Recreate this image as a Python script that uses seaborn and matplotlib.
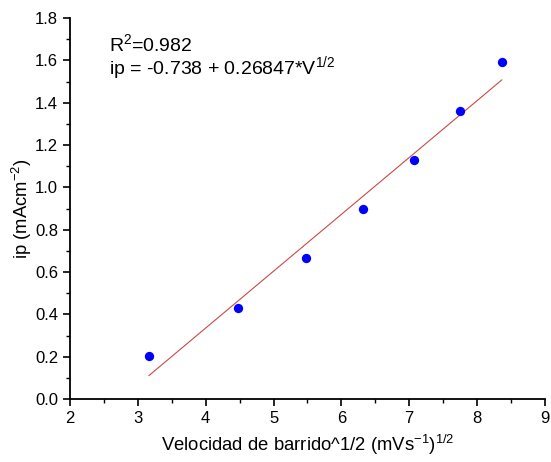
import numpy as np
import pandas as pd
import matplotlib
matplotlib.use("Agg")
import matplotlib.pyplot as plt
import seaborn as sns
from matplotlib.ticker import MultipleLocator

x_vals = [3.162, 4.472, 5.477, 6.325, 7.071, 7.746, 8.367]
ip_vals = [0.205, 0.430, 0.665, 0.900, 1.130, 1.360, 1.590]
intercept = -0.738
slope = 0.26847
x_ticks = [2, 3, 4, 5, 6, 7, 8, 9]
y_ticks = [0.0, 0.2, 0.4, 0.6, 0.8, 1.0, 1.2, 1.4, 1.6, 1.8]

sns.set_style("ticks")
plt.rcParams['font.family'] = ['Liberation Sans', 'DejaVu Sans']
plt.rcParams['mathtext.fontset'] = 'custom'
plt.rcParams['mathtext.rm'] = 'Liberation Sans'
plt.rcParams['mathtext.it'] = 'Liberation Sans:italic'
plt.rcParams['mathtext.default'] = 'regular'
plt.rcParams['text.color'] = 'black'
plt.rcParams['axes.labelcolor'] = 'black'

df = pd.DataFrame({"x": x_vals, "ip": ip_vals})
fit_x = np.array([min(x_vals), max(x_vals)])
fit_df = pd.DataFrame({"x": fit_x, "ip": intercept + slope * fit_x})

fig = plt.figure(figsize=(5.51, 4.62), dpi=100)
ax = fig.add_axes([0.127, 0.136, 0.862, 0.825])

sns.lineplot(data=fit_df, x="x", y="ip", ax=ax, color="#cc4848", linewidth=0.8)
sns.scatterplot(data=df, x="x", y="ip", ax=ax, color="#0000ff", s=45, edgecolor="#0000ff", linewidth=0, zorder=3)

ax.set_xlim(2, 9)
ax.set_ylim(0, 1.8)
ax.set_xticks(x_ticks)
ax.set_yticks(y_ticks)
ax.set_yticklabels([f"{v:.1f}" for v in y_ticks])
ax.xaxis.set_minor_locator(MultipleLocator(0.5))
ax.yaxis.set_minor_locator(MultipleLocator(0.1))
ax.tick_params(which="major", direction="out", length=5, width=1.2, labelsize=12, colors="black")
ax.tick_params(which="minor", direction="out", length=3, width=1.0, colors="black")
for s in ["left", "bottom"]:
    ax.spines[s].set_linewidth(1.3)
    ax.spines[s].set_color("black")
sns.despine(ax=ax)

ax.set_xlabel(r"Velocidad de barrido^1/2 (mVs$^{-1}$)$^{1/2}$", fontsize=13.3, labelpad=5)
ax.set_ylabel(r"ip (mAcm$^{-2}$)", fontsize=13.3, labelpad=1)

ax.text(2.57, 1.677, r"R$^{2}$=0.982", fontsize=14, va="center", ha="left")
ax.text(2.57, 1.562, r"ip = -0.738 + 0.26847*V$^{1/2}$", fontsize=14, va="center", ha="left")

fig.savefig("out.png", dpi=100)
